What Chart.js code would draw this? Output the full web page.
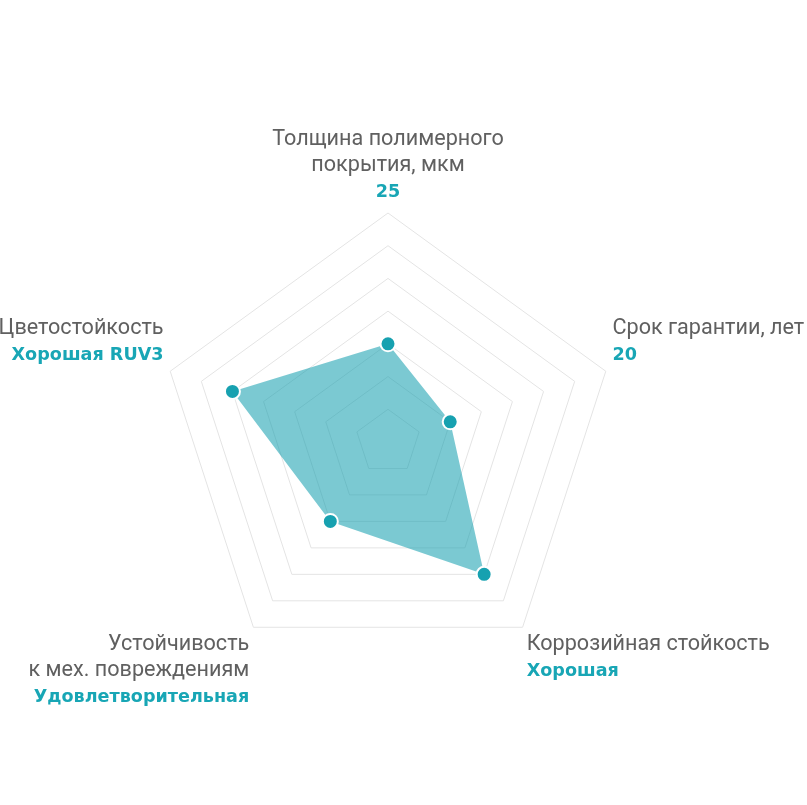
<!DOCTYPE html>
<html><head><meta charset="utf-8">
<script src="https://cdn.jsdelivr.net/npm/chart.js@4"></script>
<style>html,body{margin:0;padding:0;background:#fff}#wrap{width:807px;height:805px}</style>
</head><body><div id="wrap"><canvas id="c" width="807" height="805"></canvas></div>
<script>
// Categories (axis names, possibly multi-line)
const categories = [
  ["Толщина полимерного", "покрытия, мкм"],
  ["Срок гарантии, лет"],
  ["Коррозийная стойкость"],
  ["Устойчивость", "к мех. повреждениям"],
  ["Цветостойкость"]
];
// Value captions shown under each axis name
const valueLabels = ["25", "20", "Хорошая", "Удовлетворительная", "Хорошая RUV3"];
// Ratings on the 0..7 scale
const ratings = [3, 2, 5, 3, 5];
const scaleMin = 0;
const scaleMax = 7;

const nameFont = "21.6px Roboto";
const nameColor = "#606060";
const valueFont = "bold 17.6px 'DejaVu Sans'";
const valueColor = "#18a6b5";

const labelPlugin = {
  id: 'axisCaptions',
  afterDraw(chart) {
    const s = chart.scales.r;
    const ctx = chart.ctx;
    const pad = 7, lh = 26;
    ctx.save();
    ctx.textBaseline = 'middle';
    categories.forEach((lines, i) => {
      const items = lines.map(t => ({t, font: nameFont, color: nameColor}))
        .concat([{t: valueLabels[i], font: valueFont, color: valueColor}]);
      const h = items.length * lh;
      const ang = s.getIndexAngle(i);
      let deg = Math.round(ang * 180 / Math.PI) % 360;
      if (deg < 0) deg += 360;
      const p = s.getPointPosition(i, s.drawingArea + pad);
      let align = (deg === 0 || deg === 180) ? 'center' : (deg < 180 ? 'left' : 'right');
      let y = p.y;
      if (deg === 90 || deg === 270) y -= h / 2;
      else if (deg > 270 || deg < 90) y -= h;
      ctx.textAlign = align;
      items.forEach((it, k) => {
        ctx.font = it.font;
        ctx.fillStyle = it.color;
        ctx.fillText(it.t, p.x, y + lh * (k + 0.5) - 1);
      });
    });
    ctx.restore();
  }
};

new Chart(document.getElementById('c'), {
  type: 'radar',
  data: {
    labels: categories,
    datasets: [{
      data: ratings,
      backgroundColor: 'rgba(22,160,175,0.57)',
      borderWidth: 0,
      borderColor: 'rgba(0,0,0,0)',
      pointRadius: 7.5,
      pointHoverRadius: 7.5,
      pointBackgroundColor: '#17a1b0',
      pointBorderColor: '#ffffff',
      pointBorderWidth: 2,
      fill: true
    }]
  },
  options: {
    responsive: false,
    animation: false,
    layout: { padding: { left: 159, right: 190, top: 213, bottom: 134 } },
    plugins: { legend: { display: false }, tooltip: { enabled: false } },
    scales: {
      r: {
        min: scaleMin,
        max: scaleMax,
        ticks: { display: false, stepSize: 1 },
        grid: { color: '#e4e4e4', lineWidth: 1 },
        angleLines: { display: false },
        pointLabels: { display: false }
      }
    }
  },
  plugins: [labelPlugin]
});
</script>
</body></html>
